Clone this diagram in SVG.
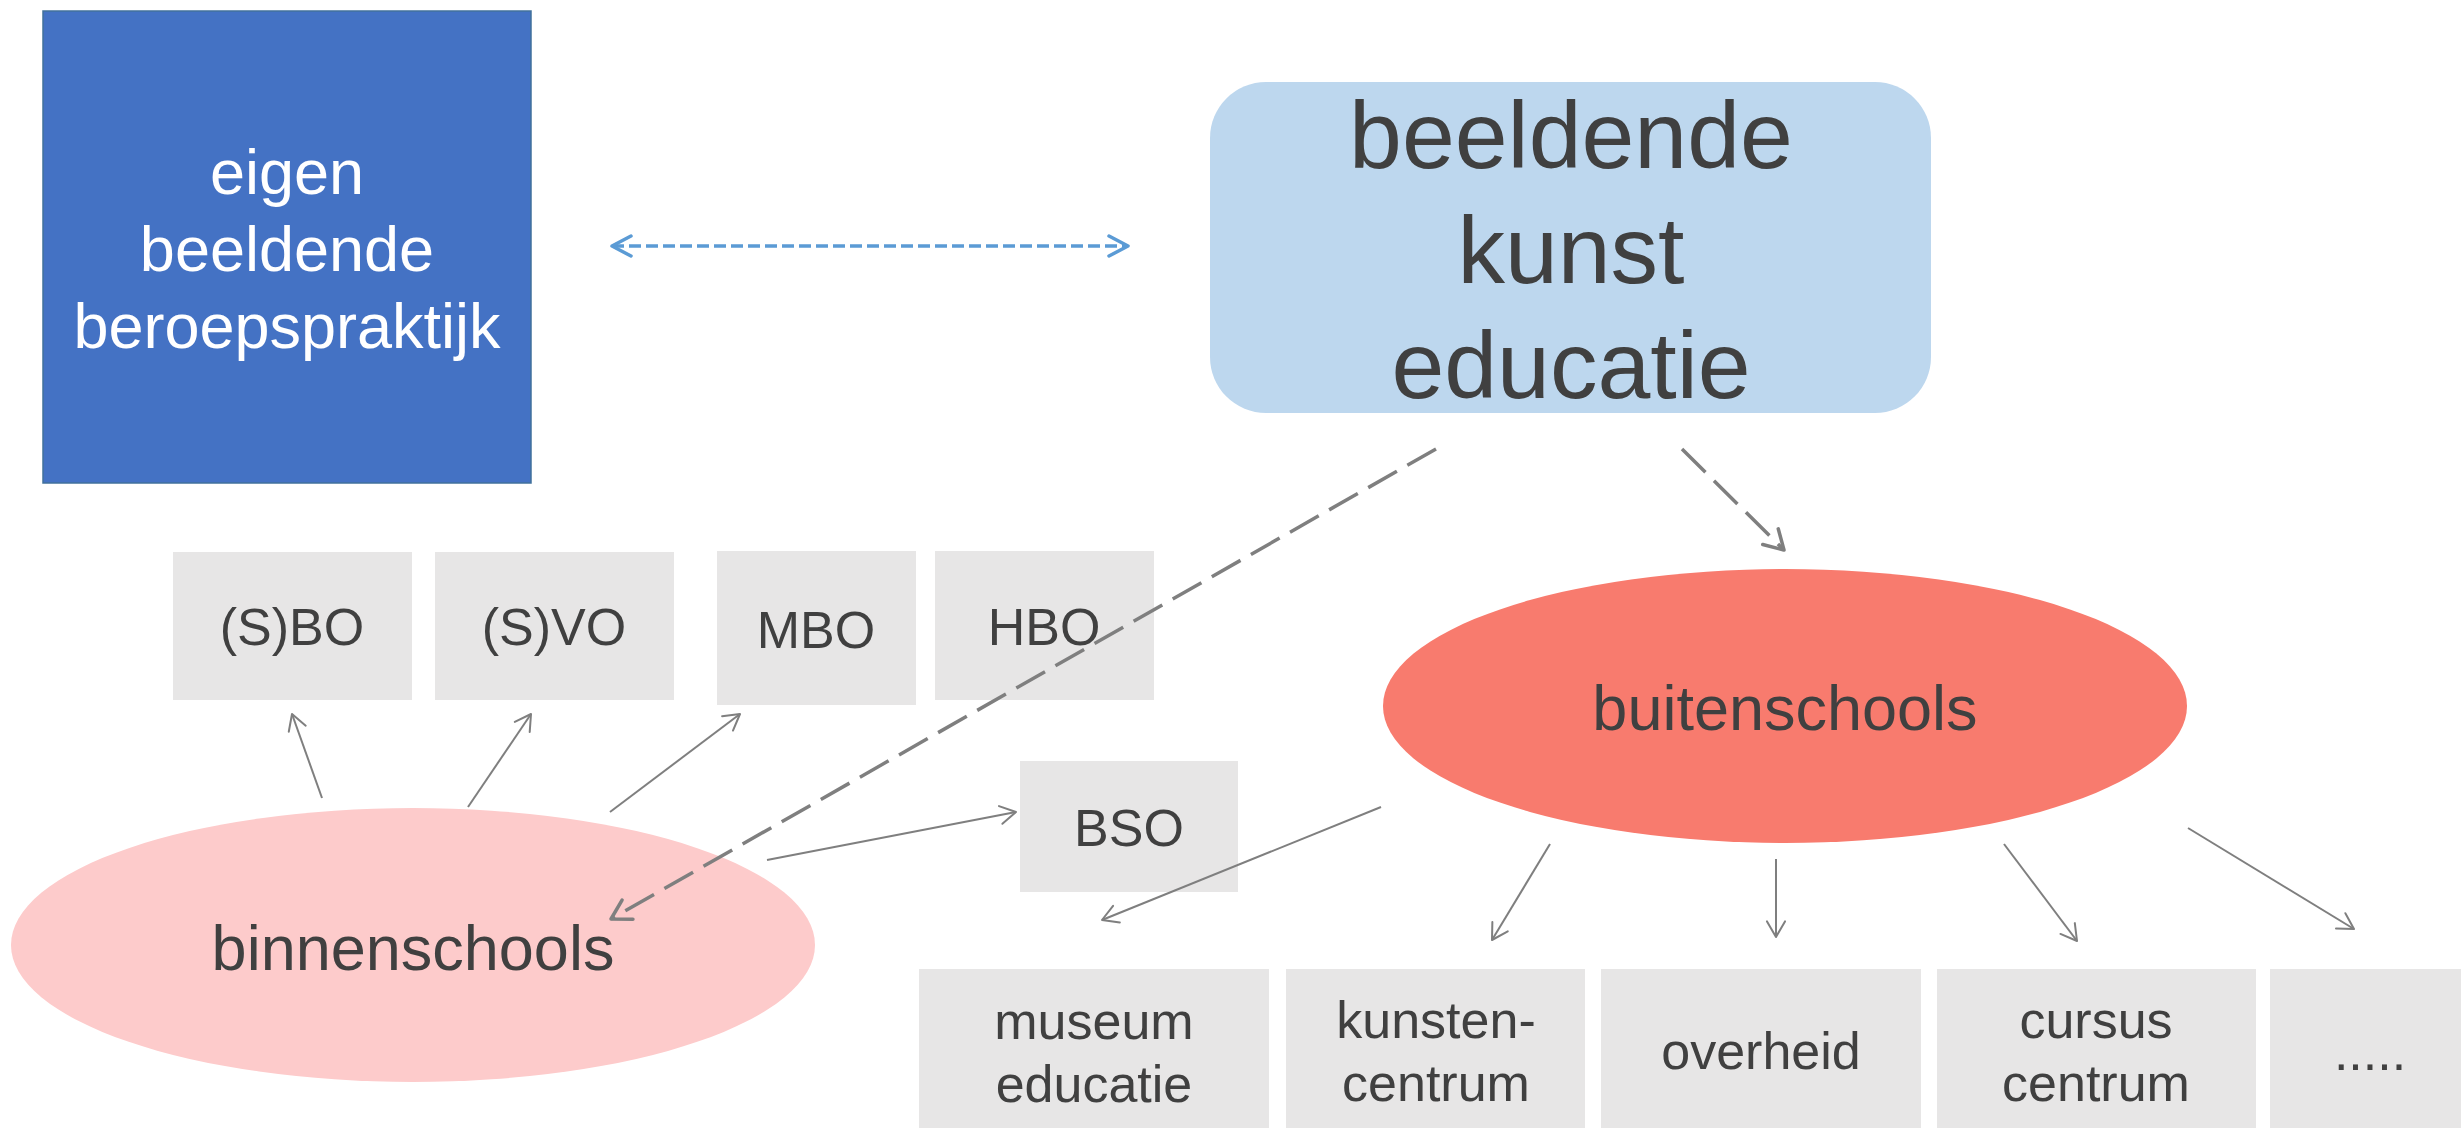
<svg xmlns="http://www.w3.org/2000/svg" width="2461" height="1128" viewBox="0 0 2461 1128">
  <style>
    text { font-family: "Liberation Sans", Arial, sans-serif; fill: #404040; text-anchor: middle; }
    .box { fill: #E7E6E6; }
    .sm { font-size: 52px; }
    .ell { font-size: 63px; }
    .conn { stroke: #7F7F7F; stroke-width: 2; fill: none; }
    .dash { stroke: #7F7F7F; stroke-width: 3.5; fill: none; stroke-dasharray: 33 12; }
    .blue { stroke: #5B9BD5; stroke-width: 3.5; fill: none; stroke-dasharray: 12 5; }
  </style>
  <defs>
    <marker id="ah" markerUnits="userSpaceOnUse" viewBox="0 0 24 24" markerWidth="24" markerHeight="24" refX="21" refY="12" orient="auto">
      <path d="M5.4,3 L21,12 L5.4,21" fill="none" stroke="#7F7F7F" stroke-width="2" stroke-linecap="round" stroke-linejoin="round"/>
    </marker>
    <marker id="ahd" markerUnits="userSpaceOnUse" viewBox="0 0 30 30" markerWidth="30" markerHeight="30" refX="26" refY="15" orient="auto">
      <path d="M7,4 L26,15 L7,26" fill="none" stroke="#7F7F7F" stroke-width="3.5" stroke-linecap="round" stroke-linejoin="round"/>
    </marker>
    <marker id="ahb" markerUnits="userSpaceOnUse" viewBox="0 0 30 30" markerWidth="30" markerHeight="30" refX="26" refY="15" orient="auto-start-reverse">
      <path d="M7,5 L26,15 L7,25" fill="none" stroke="#5B9BD5" stroke-width="3.5" stroke-linecap="round" stroke-linejoin="round"/>
    </marker>
  </defs>

  <g id="eigen">
    <rect x="43" y="11" width="488" height="472" fill="#4472C4" stroke="#41719C" stroke-width="1.5"/>
    <text x="287" y="194" font-size="63" style="fill:#FFFFFF">eigen</text>
    <text x="287" y="271" font-size="63" style="fill:#FFFFFF">beeldende</text>
    <text x="287" y="348" font-size="63" style="fill:#FFFFFF">beroepspraktijk</text>
  </g>

  <g id="bke">
    <rect x="1210" y="82" width="721" height="331" rx="56" ry="56" fill="#BDD7EE"/>
    <text x="1571" y="168" font-size="95">beeldende</text>
    <text x="1571" y="283" font-size="95">kunst</text>
    <text x="1571" y="398" font-size="95">educatie</text>
  </g>

  <g id="sbo"><rect class="box" x="173" y="552" width="239" height="148"/><text class="sm" x="292" y="645">(S)BO</text></g>
  <g id="svo"><rect class="box" x="435" y="552" width="239" height="148"/><text class="sm" x="554" y="645">(S)VO</text></g>
  <g id="mbo"><rect class="box" x="717" y="551" width="199" height="154"/><text class="sm" x="816" y="648">MBO</text></g>
  <g id="hbo"><rect class="box" x="935" y="551" width="219" height="149"/><text class="sm" x="1044" y="645">HBO</text></g>
  <g id="bso"><rect class="box" x="1020" y="761" width="218" height="131"/><text class="sm" x="1129" y="846">BSO</text></g>

  <g id="museum"><rect class="box" x="919" y="969" width="350" height="170"/><text class="sm" x="1094" y="1039">museum</text><text class="sm" x="1094" y="1102">educatie</text></g>
  <g id="kunstencentrum"><rect class="box" x="1286" y="969" width="299" height="170"/><text class="sm" x="1436" y="1038">kunsten-</text><text class="sm" x="1436" y="1101">centrum</text></g>
  <g id="overheid"><rect class="box" x="1601" y="969" width="320" height="170"/><text class="sm" x="1761" y="1069">overheid</text></g>
  <g id="cursuscentrum"><rect class="box" x="1937" y="969" width="319" height="170"/><text class="sm" x="2096" y="1038">cursus</text><text class="sm" x="2096" y="1101">centrum</text></g>
  <g id="etc"><rect class="box" x="2270" y="969" width="200" height="170"/><text class="sm" x="2370" y="1070">.....</text></g>

  <g id="binnenschools">
    <ellipse cx="413" cy="945" rx="402" ry="137" fill="#FDCBCB"/>
    <text class="ell" x="413" y="970">binnenschools</text>
  </g>
  <g id="buitenschools">
    <ellipse cx="1785" cy="706" rx="402" ry="137" fill="#F87B6E"/>
    <text class="ell" x="1785" y="730">buitenschools</text>
  </g>

  <g id="connectors">
    <line class="blue" x1="612" y1="246" x2="1128" y2="246" marker-start="url(#ahb)" marker-end="url(#ahb)"/>
    <line class="dash" x1="1436" y1="449" x2="611" y2="919" marker-end="url(#ahd)"/>
    <line class="dash" x1="1682" y1="449" x2="1784" y2="550" marker-end="url(#ahd)"/>
    <line class="conn" x1="322" y1="798" x2="292" y2="714" marker-end="url(#ah)"/>
    <line class="conn" x1="468" y1="807" x2="531" y2="714" marker-end="url(#ah)"/>
    <line class="conn" x1="610" y1="812" x2="740" y2="714" marker-end="url(#ah)"/>
    <line class="conn" x1="767" y1="860" x2="1016" y2="812" marker-end="url(#ah)"/>
    <line class="conn" x1="1381" y1="807" x2="1102" y2="920" marker-end="url(#ah)"/>
    <line class="conn" x1="1550" y1="844" x2="1492" y2="940" marker-end="url(#ah)"/>
    <line class="conn" x1="1776" y1="859" x2="1776" y2="937" marker-end="url(#ah)"/>
    <line class="conn" x1="2004" y1="844" x2="2077" y2="941" marker-end="url(#ah)"/>
    <line class="conn" x1="2188" y1="828" x2="2354" y2="929" marker-end="url(#ah)"/>
  </g>
</svg>
